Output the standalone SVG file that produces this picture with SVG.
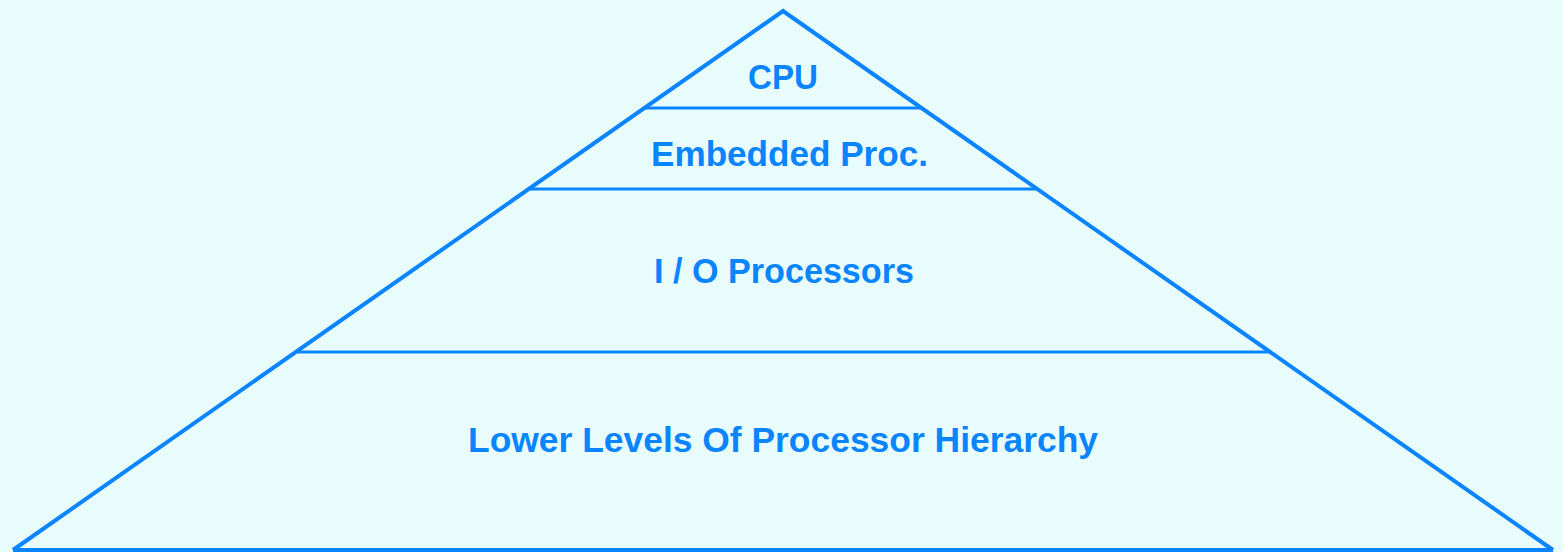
<svg xmlns="http://www.w3.org/2000/svg" width="1563" height="552" viewBox="0 0 1563 552">
  <style>
    .edge { stroke: #0a84ff; stroke-width: 4; fill: none; stroke-linejoin: miter; }
    .tier { stroke: #0a84ff; stroke-width: 3; fill: none; }
    .label { font-family: "Liberation Sans", Arial, sans-serif; font-weight: bold; font-size: 35px; fill: #0a84ff; text-anchor: middle; }
  </style>
  <rect x="0" y="0" width="1563" height="552" fill="#e8fcfc"/>
  <!-- outer triangle -->
  <g id="pyramid">
    <polyline class="edge" points="13,550 783,11 1553,550"/>
    <line class="edge" x1="13" y1="550" x2="1553" y2="550"/>
  </g>
  <!-- tier dividers -->
  <g id="connectors">
    <line class="tier" x1="644" y1="108" x2="922" y2="108"/>
    <line class="tier" x1="528" y1="189" x2="1038" y2="189"/>
    <line class="tier" x1="296" y1="352" x2="1270" y2="352"/>
  </g>
  <g id="cpu"><text class="label" x="783" y="89" textLength="70" lengthAdjust="spacingAndGlyphs">CPU</text></g>
  <g id="embedded"><text class="label" x="789.5" y="166" textLength="277" lengthAdjust="spacingAndGlyphs">Embedded Proc.</text></g>
  <g id="io"><text class="label" x="784" y="283" textLength="260" lengthAdjust="spacingAndGlyphs">I / O Processors</text></g>
  <g id="lower"><text class="label" x="783" y="452" textLength="630" lengthAdjust="spacingAndGlyphs">Lower Levels Of Processor Hierarchy</text></g>
</svg>
